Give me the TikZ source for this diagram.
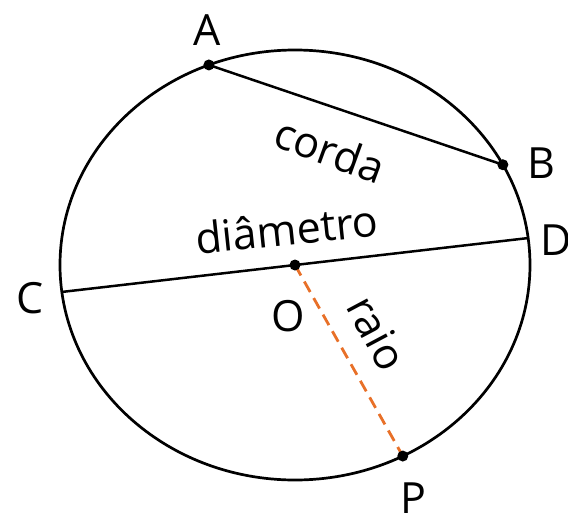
\documentclass[tikz,border=0pt]{standalone}
\usepackage{fontspec}
\setmainfont{Open Sans}
\definecolor{raiocol}{RGB}{232,112,40}
\begin{document}
\begin{tikzpicture}[x=1pt,y=-1pt,
  curve/.style={line width=2.7pt,black},
  seg/.style={line width=2.5pt,black},
  dot/.style={circle,fill=black,inner sep=0pt,minimum size=11pt},
  lbl/.style={font=\fontsize{43}{48}\selectfont,inner sep=0pt},
  word/.style={font=\fontsize{43}{48}\selectfont,inner sep=0pt}]
\useasboundingbox (0,0) rectangle (568,517);
\draw[curve] (295,265) ellipse [x radius=235, y radius=215];
\coordinate (A) at ({295+235*cos(111.5)},{265-215*sin(111.5)});
\coordinate (B) at ({295+235*cos(27.8)},{265-215*sin(27.8)});
\coordinate (D) at ({295+235*cos(7.2)},{265-215*sin(7.2)});
\coordinate (C) at ({295+235*cos(187.2)},{265-215*sin(187.2)});
\coordinate (P) at ({295+235*cos(-62.7)},{265-215*sin(-62.7)});
\coordinate (O) at (295,265);
\draw[seg] (A) -- (B);
\draw[seg] (C) -- (D);
\draw[raiocol,line width=2.8pt,dash pattern=on 12pt off 7pt] (O) -- (P);
\node[dot] (dA) at (A) {};
\node[dot] (dB) at (B) {};
\node[dot] (dO) at (O) {};
\node[dot] (dP) at (P) {};
\node[lbl] (lA) at (207,30) {A};
\node[lbl] (lB) at (541,163) {B};
\node[lbl] (lC) at (30,298) {C};
\node[lbl] (lD) at (556,240) {D};
\node[lbl] (lO) at (288,316) {O};
\node[lbl] (lP) at (413,498) {P};
\node[word,rotate=-20] (corda) at (330,150) {corda};
\node[word,rotate=6] (diam) at (287,229) {diâmetro};
\node[word,rotate=-62] (raio) at (377,333) {raio};
\end{tikzpicture}
\end{document}
